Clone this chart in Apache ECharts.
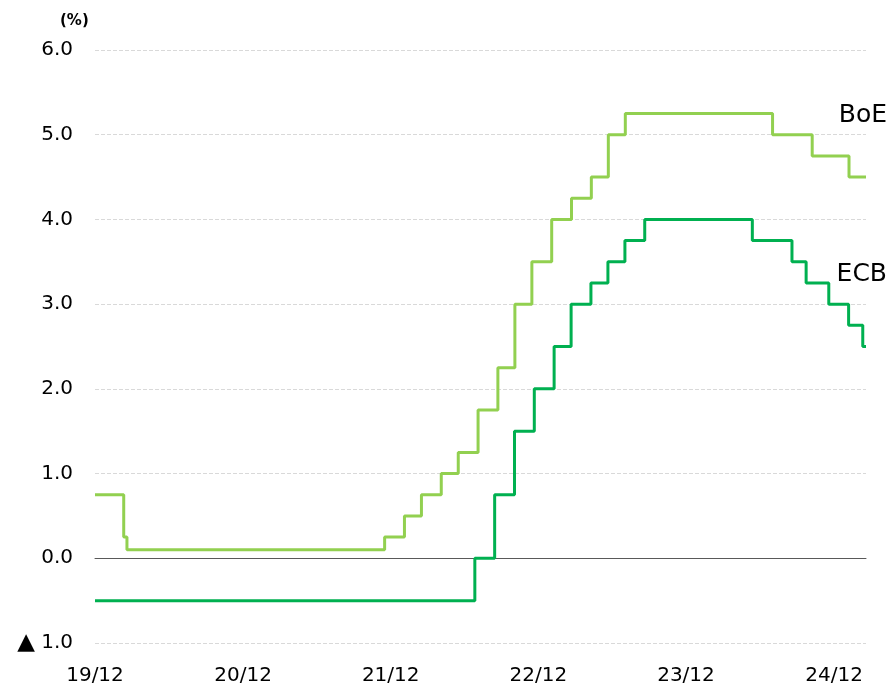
<!DOCTYPE html>
<html>
<head>
<meta charset="utf-8">
<script src="https://cdn.jsdelivr.net/npm/echarts@6/dist/echarts.min.js"></script>
<style>
  html, body { margin: 0; padding: 0; background: #fff; }
  #chart { width: 893px; height: 686px; }
</style>
</head>
<body>
<div id="chart"></div>
<script>
// 政策金利（変更日, 変更後の水準）
const boeDates = ['2019-12-31', '2020-03-11', '2020-03-19', '2021-12-16', '2022-02-03', '2022-03-17',
  '2022-05-05', '2022-06-16', '2022-08-04', '2022-09-22', '2022-11-03', '2022-12-15', '2023-02-02',
  '2023-03-23', '2023-05-11', '2023-06-22', '2023-08-03', '2024-08-01', '2024-11-07', '2025-02-06', '2025-03-20'];
const boeRates = [0.75, 0.25, 0.1, 0.25, 0.5, 0.75, 1.0, 1.25, 1.75, 2.25, 3.0, 3.5, 4.0,
  4.25, 4.5, 5.0, 5.25, 5.0, 4.75, 4.5, 4.5];

const ecbDates = ['2019-12-31', '2022-07-27', '2022-09-14', '2022-11-02', '2022-12-21', '2023-02-08',
  '2023-03-22', '2023-05-10', '2023-06-21', '2023-08-02', '2023-09-20', '2024-06-12', '2024-09-18',
  '2024-10-23', '2024-12-18', '2025-02-05', '2025-03-12', '2025-03-20'];
const ecbRates = [-0.5, 0.0, 0.75, 1.5, 2.0, 2.5, 3.0, 3.25, 3.5, 3.75, 4.0, 3.75, 3.5,
  3.25, 3.0, 2.75, 2.5, 2.5];

// 横軸の目盛り
const tickDates = ['2019-12-31', '2020-12-31', '2021-12-31', '2022-12-31', '2023-12-31', '2024-12-31'];
const tickLabels = ['19/12', '20/12', '21/12', '22/12', '23/12', '24/12'];

const startDate = '2019-12-31';
const endDate = '2025-03-20';

// 日付 -> 起点からの日数
const dayNum = d => {
  const [y, m, dd] = d.split('-').map(Number);
  const [y0, m0, d0] = startDate.split('-').map(Number);
  return Math.round((Date.UTC(y, m - 1, dd) - Date.UTC(y0, m0 - 1, d0)) / 86400000);
};
const pair = (dates, vals) => dates.map((d, i) => [dayNum(d), vals[i]]);
const tickDays = tickDates.map(dayNum);

const chart = echarts.init(document.getElementById('chart'));
const font = 'DejaVu Sans, Verdana, sans-serif';

chart.setOption({
  animation: false,
  grid: { left: 95, right: 27, top: 50, bottom: 43 },
  xAxis: {
    type: 'value',
    min: 0,
    max: dayNum(endDate),
    axisLine: { onZero: true, lineStyle: { color: '#595959', width: 1 } },
    axisTick: { show: false },
    splitLine: { show: false },
    axisLabel: {
      customValues: tickDays,
      formatter: v => tickLabels[tickDays.indexOf(Math.round(v))] || '',
      color: '#000',
      fontSize: 20,
      fontFamily: font,
      margin: 23
    }
  },
  yAxis: {
    type: 'value',
    min: -1,
    max: 6,
    interval: 1,
    axisLine: { show: false },
    axisTick: { show: false },
    splitLine: { lineStyle: { color: '#d9d9d9', type: [4, 2], width: 1 } },
    axisLabel: {
      formatter: v => (v < 0 ? '{t|▲} ' + Math.abs(v).toFixed(1) : v.toFixed(1)),
      rich: { t: { fontSize: 23, fontFamily: font, color: '#000' } },
      color: '#000',
      fontSize: 20,
      fontFamily: font,
      margin: 22
    }
  },
  series: [
    {
      name: 'BoE',
      type: 'line',
      step: 'end',
      showSymbol: false,
      data: pair(boeDates, boeRates),
      lineStyle: { color: '#92d050', width: 3 },
      itemStyle: { color: '#92d050' },
      z: 3
    },
    {
      name: 'ECB',
      type: 'line',
      step: 'end',
      showSymbol: false,
      data: pair(ecbDates, ecbRates),
      lineStyle: { color: '#00b050', width: 3 },
      itemStyle: { color: '#00b050' },
      z: 4
    }
  ],
  graphic: [
    { type: 'text', left: 60, top: 14, style: { text: '(%)', font: 'bold 15px ' + font, fill: '#000' } },
    { type: 'text', right: 6, top: 103, style: { text: 'BoE', font: '25px ' + font, fill: '#000' } },
    { type: 'text', right: 6, top: 262, style: { text: 'ECB', font: '25px ' + font, fill: '#000' } }
  ]
});
</script>
</body>
</html>
